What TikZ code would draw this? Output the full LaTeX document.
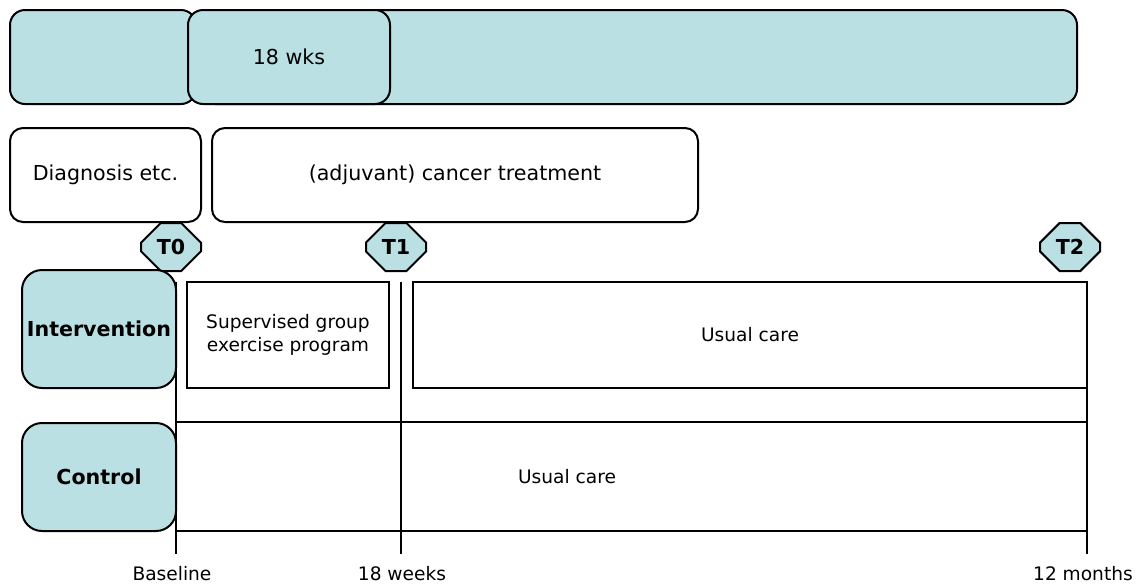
\documentclass[tikz,border=0pt]{standalone}
\usepackage{fontspec}
\setmainfont{DejaVu Sans}
\usepackage{tikz}
\usetikzlibrary{shapes.misc, positioning}
\definecolor{paleteal}{RGB}{187,224,227}
\tikzset{every picture/.style={line width=1pt}}

\begin{document}
\begin{tikzpicture}[x=0.5pt, y=-0.5pt, font=\fontsize{10.3}{12.4}\selectfont,
    bar/.style={draw, fill=paleteal, rounded corners=7.5pt, minimum height=47pt},
    phase/.style={draw, rounded corners=6.5pt, minimum height=47pt},
    group/.style={draw, fill=paleteal, rounded corners=10pt, minimum width=77pt, inner sep=1pt, font=\fontsize{10.3}{12.4}\selectfont\bfseries},
    tmark/.style={draw, fill=paleteal, chamfered rectangle, chamfered rectangle xsep=7pt, chamfered rectangle ysep=6pt, minimum width=30pt, minimum height=24pt, inner sep=0pt, font=\fontsize{10.3}{12.4}\selectfont\bfseries},
    care/.style={draw, minimum height=53pt, align=center, font=\fontsize{9.3}{11.3}\selectfont},
    tick/.style={line width=0.7pt},
    ticklabel/.style={font=\fontsize{9.3}{11.3}\selectfont}]
    \useasboundingbox (0,0) rectangle (1137,585);

    % time bar
    \node[bar, minimum width=93pt] (pre) at (103,57) {};
    \node[bar, minimum width=438.5pt] (rest) at (638.5,57) {};
    \node[bar, minimum width=101pt] (wks) at (289,57) {18 wks};

    % phases
    \node[phase, minimum width=95.5pt] (diag) at (105.5,175) {Diagnosis etc.};
    \node[phase, minimum width=243pt] (treat) at (455,175) {(adjuvant) cancer treatment};

    % measurements
    \node[tmark] (t0) at (171,247) {T0};
    \node[tmark] (t1) at (396,247) {T1};
    \node[tmark] (t2) at (1070,247) {T2};

    % groups
    \node[group, minimum height=59pt] (int) at (99,329) {Intervention};
    \node[group, minimum height=54pt] (ctl) at (99,477) {Control};
    \node[care, minimum width=101pt] (prog) at (288,335) {Supervised group\\exercise program};
    \node[care, minimum width=337pt] (usual) at (750,335) {Usual care};
    \node[care, draw=none] (usualc) at (567,477) {Usual care};

    % time axis
    \coordinate (b0) at (176,282);
    \coordinate (b1) at (176,554);
    \coordinate (w0) at (401,282);
    \coordinate (w1) at (401,554);
    \coordinate (m0) at (1087,282);
    \coordinate (m1) at (1087,554);
    \draw[tick] (b0) -- (b1);
    \draw[tick] (w0) -- (w1);
    \draw[tick] (m0) -- (m1);
    \draw[tick] (ctl.north east) -- (m0 |- ctl.north);
    \draw[tick] ([yshift=0.5pt]ctl.south east) -- ([yshift=0.5pt]m0 |- ctl.south);

    \node[ticklabel] (lb) at (172,574) {Baseline};
    \node[ticklabel] (lw) at (402,574) {18 weeks};
    \node[ticklabel] (lm) at (1083,574) {12 months};
\end{tikzpicture}
\end{document}
